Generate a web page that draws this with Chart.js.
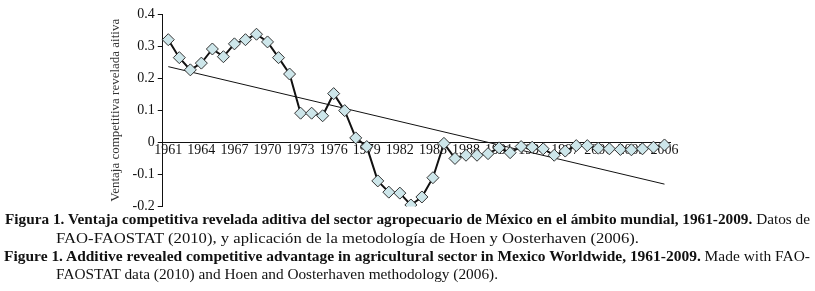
<!DOCTYPE html>
<html>
<head>
<meta charset="utf-8">
<script src="https://cdn.jsdelivr.net/npm/chart.js@4"></script>
<style>
  body { margin: 0; background: #fff; width: 815px; height: 291px; overflow: hidden; }
  #wrap { position: absolute; left: 0; top: 0; width: 815px; height: 218px; }
  .cap { position: absolute; font-family: "Liberation Serif", serif; font-size: 14px; color: #111; white-space: nowrap; }
  .cap b { font-weight: bold; }
</style>
</head>
<body>
<div id="wrap"><canvas id="vcraChart" width="815" height="218"></canvas></div>
<div class="cap" id="c1" style="left:5px; top:212px;"><b>Figura 1. Ventaja competitiva revelada aditiva del sector agropecuario de México en el ámbito mundial, 1961-2009.</b> Datos de</div>
<div class="cap" id="c2" style="left:56px; top:231px;">FAO-FAOSTAT (2010), y aplicación de la metodología de Hoen y Oosterhaven (2006).</div>
<div class="cap" id="c3" style="left:4px; top:249px;"><b>Figure 1. Additive revealed competitive advantage in agricultural sector in Mexico Worldwide, 1961-2009.</b> Made with FAO-</div>
<div class="cap" id="c4" style="left:56px; top:267px;">FAOSTAT data (2010) and Hoen and Oosterhaven methodology (2006).</div>
<script>
const years = [];
for (let y = 1961; y <= 2006; y++) years.push(String(y));

const vcraValues = [
  0.32, 0.264, 0.226, 0.247, 0.291, 0.267, 0.307, 0.32, 0.337, 0.313,
  0.264, 0.213, 0.091, 0.091, 0.083, 0.152, 0.099, 0.014, -0.013, -0.12,
  -0.155, -0.158, -0.195, -0.17, -0.11, -0.003, -0.05, -0.04, -0.04, -0.035,
  -0.017, -0.032, -0.013, -0.015, -0.02, -0.04, -0.027, -0.01, -0.01, -0.018,
  -0.02, -0.022, -0.023, -0.02, -0.015, -0.008,
];

// trend line end points (1961, 2006)
const trendEnds = [0.236, -0.13];

const yTicks = [0.4, 0.3, 0.2, 0.1, 0, -0.1, -0.2];

// stretch captions to the widths in the picture
const capWidths = { c1: 805, c2: 583, c3: 806, c4: 442 };
Object.keys(capWidths).forEach(function (id) {
  const el = document.getElementById(id);
  const w = el.getBoundingClientRect().width;
  el.style.transformOrigin = "0 0";
  el.style.transform = "scaleX(" + (capWidths[id] / w) + ")";
});

const trendData = years.map(function (y, i) {
  if (i === 0) return trendEnds[0];
  if (i === years.length - 1) return trendEnds[1];
  return null;
});

const serif = "'Liberation Serif', 'Times New Roman', serif";

const configVcra = {
  type: "line",
  data: {
    labels: years,
    datasets: [
      {
        label: "VCRA",
        data: vcraValues,
        borderColor: "#111",
        borderWidth: 2,
        pointStyle: "rectRot",
        pointRadius: 6,
        pointBackgroundColor: "#cde6ea",
        pointBorderColor: "#333",
        pointBorderWidth: 1,
        tension: 0,
      },
      {
        label: "Tendencia",
        data: trendData,
        borderColor: "#111",
        borderWidth: 1,
        pointRadius: 0,
        spanGaps: true,
        order: 1,
      },
    ],
  },
  options: {
    responsive: false,
    animation: false,
    layout: {
      padding: { left: 108, right: 145, top: 14, bottom: 2 },
    },
    scales: {
      x: {
        type: "category",
        offset: true,
        position: { y: 0 },
        afterFit: function (axis) {
          axis.height = 0;
        },
        grid: { display: false, drawTicks: false },
        border: { display: true, color: "#111", width: 1 },
        ticks: {
          autoSkip: false,
          maxRotation: 0,
          color: "#111",
          padding: 0,
          font: { family: serif, size: 14 },
          callback: function (val, index) {
            return index % 3 === 0 ? this.getLabelForValue(val) : "";
          },
        },
      },
      y: {
        min: -0.2,
        max: 0.4,
        afterBuildTicks: function (axis) {
          axis.ticks = yTicks.map(function (v) { return { value: v }; });
        },
        grid: {
          display: true,
          drawOnChartArea: false,
          drawTicks: true,
          tickLength: 5,
          color: "#111",
        },
        border: { display: true, color: "#111", width: 1 },
        ticks: {
          color: "#111",
          padding: 3,
          font: { family: serif, size: 14 },
          callback: function (v) {
            return String(Math.round(v * 10) / 10);
          },
        },
        title: {
          display: true,
          text: "Ventaja competitiva revelada aitiva",
          color: "#333",
          padding: { top: 0, bottom: 6 },
          font: { family: serif, size: 13 },
        },
      },
    },
    plugins: {
      legend: { display: false },
      tooltip: { enabled: false },
    },
  },
};

const vcraChart = new Chart(document.getElementById("vcraChart"), configVcra);
</script>
</body>
</html>
